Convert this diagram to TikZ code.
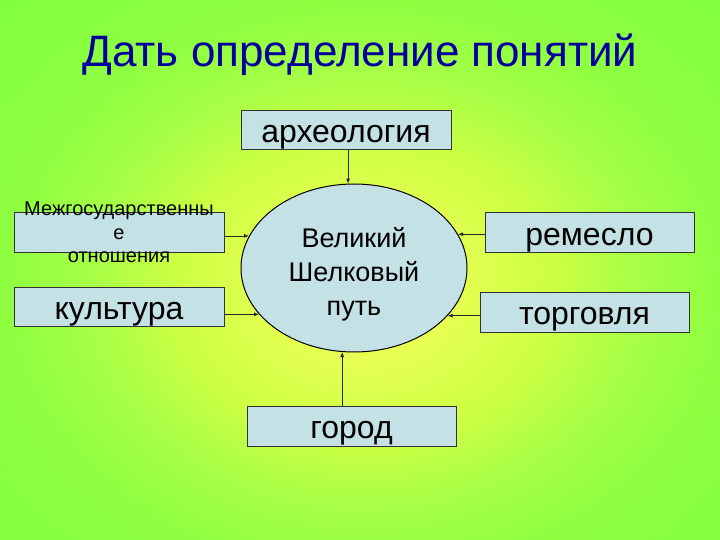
\documentclass[tikz,border=0pt]{standalone}
\usepackage{fontspec}
\setmainfont{Liberation Sans}
\usetikzlibrary{shapes.geometric,arrows.meta}
\definecolor{cA}{HTML}{E6FF52}
\definecolor{cB}{HTML}{CCFF44}
\definecolor{cC}{HTML}{A8FF46}
\definecolor{cD}{HTML}{8EFF40}
\definecolor{cE}{HTML}{80FF40}
\definecolor{boxfill}{HTML}{C4E1E5}
\definecolor{boxline}{HTML}{333333}
\definecolor{titleblue}{HTML}{00009C}
\pgfdeclareradialshading{bgshade}{\pgfpoint{0bp}{0bp}}{color(0bp)=(cA); color(6bp)=(cA); color(13bp)=(cB); color(18.5bp)=(cC); color(25bp)=(cD); color(35bp)=(cE); color(50bp)=(cE)}
\tikzset{
  termbox/.style={draw=boxline, line width=1pt, fill=boxfill, minimum width=210pt, minimum height=39pt, inner sep=0pt},
  termtext/.style={anchor=base, font=\fontsize{32}{38}\selectfont, text=black, inner sep=0pt},
  conn/.style={draw=black!85, line width=0.8pt, -{Latex[length=5pt,width=4pt]}},
}
\begin{document}
\begin{tikzpicture}[x=1pt,y=-1pt]
\useasboundingbox (0,0) rectangle (720,540);
\begin{scope}
\clip (0,0) rectangle (720,540);
\shade[shading=bgshade] (0,0) rectangle (730,580);
\end{scope}
% title
\node (title) [anchor=base, inner sep=0pt, text=titleblue, font=\fontsize{44}{50}\selectfont] at (360,67) {Дать определение понятий};
% central ellipse
\node (ell) [ellipse, draw=black, line width=1pt, fill=boxfill, minimum width=226pt, minimum height=168pt, inner sep=0pt] at (354,268) {};
\node (elltext) [align=center, inner sep=0pt, font=\fontsize{27}{34}\selectfont] at (354,274) {Великий\\Шелковый\\путь};
% boxes
\node (arch) [termbox] at (346,130.5) {};
\node (mezh) [termbox] at (119,232.5) {};
\node (kult) [termbox] at (119,306.5) {};
\node (rem) [termbox, minimum width=209pt] at (589.5,232.5) {};
\node (torg) [termbox, minimum width=209pt, minimum height=40pt] at (584.5,312) {};
\node (gor) [termbox, minimum width=209pt, minimum height=40pt] at (351.5,426) {};
% labels
\node (archt) [termtext] at (346,143) {археология};
\node (kultt) [termtext] at (119,319) {культура};
\node (remt) [termtext] at (589.5,245) {ремесло};
\node (torgt) [termtext] at (584.5,324.5) {торговля};
\node (gort) [termtext] at (351.5,438.5) {город};
\node (mezht) [align=center, inner sep=0pt, font=\fontsize{20}{23.6}\selectfont] at (119,232.5) {Межгосударственны\\е\\отношения};
% connectors
\draw[conn] (arch.south -| ell.94) -- (ell.94);
\draw[conn] (mezh.east |- ell.163) -- (ell.163);
\draw[conn] (kult.east |- ell.206.6) -- (ell.206.6);
\draw[conn] (rem.west |- ell.18.8) -- (ell.18.8);
\draw[conn] (torg.west |- ell.333.4) -- (ell.333.4);
\draw[conn] (gor.north -| ell.262.5) -- (ell.262.5);
\end{tikzpicture}
\end{document}
